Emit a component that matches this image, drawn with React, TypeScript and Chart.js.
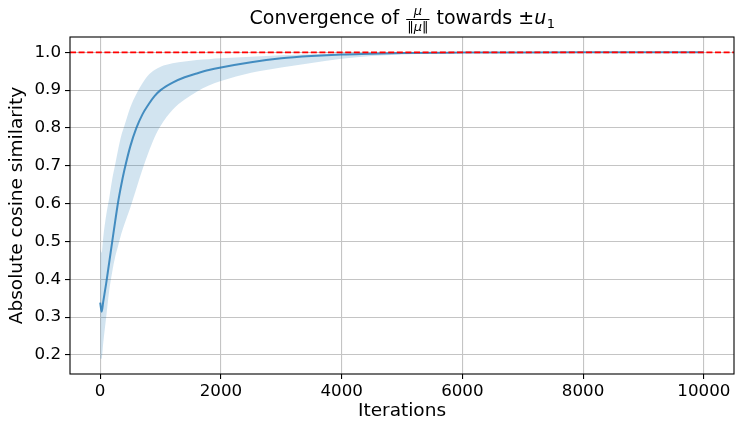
import React, { useEffect, useRef } from "react";
import { Chart, registerables } from "chart.js";

Chart.register(...registerables);

// ---------- data ----------
const iterations = [
  0, 25, 50, 100, 150, 200, 250, 300, 350, 400, 500, 600, 700, 800, 900, 1000,
  1200, 1400, 1600, 1800, 2000, 2500, 3000, 3500, 4000, 4500, 5000, 6000, 7000,
  8000, 9000, 10000,
];
const meanSim = [
  0.338, 0.314, 0.34, 0.39, 0.445, 0.5, 0.555, 0.607, 0.65, 0.688, 0.752, 0.8,
  0.836, 0.862, 0.884, 0.9, 0.92, 0.934, 0.944, 0.953, 0.96, 0.974, 0.984, 0.99,
  0.994, 0.996, 0.998, 0.9993, 0.9998, 1.0, 1.0, 1.0,
];
const upperSim = [
  0.48, 0.47, 0.51, 0.57, 0.615, 0.665, 0.705, 0.745, 0.78, 0.805, 0.855, 0.89,
  0.918, 0.94, 0.953, 0.962, 0.971, 0.976, 0.98, 0.982, 0.984, 0.988, 0.992,
  0.995, 0.997, 0.998, 0.999, 1.0, 1.0, 1.0, 1.0, 1.0,
];
const lowerSim = [
  0.19, 0.19, 0.23, 0.3, 0.37, 0.42, 0.46, 0.49, 0.52, 0.545, 0.59, 0.64,
  0.69, 0.735, 0.775, 0.805, 0.848, 0.875, 0.896, 0.912, 0.924, 0.946, 0.96,
  0.972, 0.983, 0.99, 0.994, 0.998, 0.9995, 1.0, 1.0, 1.0,
];
const xTicks = [0, 2000, 4000, 6000, 8000, 10000];
const yTicks = [0.2, 0.3, 0.4, 0.5, 0.6, 0.7, 0.8, 0.9, 1.0];
const X_MIN = -500;
const X_MAX = 10500;
const Y_MIN = 0.1495;
const Y_MAX = 1.0405;
const REF_LEVEL = 1.0;

const xLabel = "Iterations";
const yLabel = "Absolute cosine similarity";
const titlePre = "Convergence of ";
const titleNum = "μ";
const titleDenBar = "‖";
const titleDenSym = "μ";
const titlePost = " towards ±";
const titleSym = "u";
const titleSub = "1";

const FONT = '"DejaVu Sans"';

const toPoints = (ys: number[]) => iterations.map((x, i) => ({ x, y: ys[i] }));

const mathTitle = {
  id: "mathTitle",
  afterDraw(chart: any) {
    const ctx = chart.ctx as CanvasRenderingContext2D;
    const area = chart.chartArea;
    const big = 19;
    const small = 13;
    ctx.save();
    ctx.fillStyle = "#000";
    ctx.textBaseline = "alphabetic";
    ctx.textAlign = "left";

    ctx.font = `${big}px ${FONT}`;
    const wPre = ctx.measureText(titlePre).width;
    const wPost = ctx.measureText(titlePost).width;
    ctx.font = `italic ${big}px ${FONT}`;
    const wSym = ctx.measureText(titleSym).width;
    ctx.font = `${small}px ${FONT}`;
    const wSub = ctx.measureText(titleSub).width;
    const wBar = ctx.measureText(titleDenBar).width;
    ctx.font = `italic ${small}px ${FONT}`;
    const wNum = ctx.measureText(titleNum).width;
    const wMu = ctx.measureText(titleDenSym).width;
    const wDen = 2 * wBar + wMu;
    const fracW = Math.max(wNum, wDen) + 2;
    const gap = 1;
    const total = wPre + gap + fracW + gap + wPost + wSym + wSub;

    const base = 24;
    const barY = 19.5;
    let x = (area.left + area.right) / 2 - total / 2;

    ctx.font = `${big}px ${FONT}`;
    ctx.fillText(titlePre, x, base);
    x += wPre + gap;

    // fraction
    const cx = x + fracW / 2;
    ctx.font = `italic ${small}px ${FONT}`;
    ctx.fillText(titleNum, cx - wNum / 2, barY - 5);
    ctx.fillRect(x, barY - 0.5, fracW, 1);
    let dx = cx - wDen / 2;
    const denBase = barY + 11;
    ctx.font = `${small}px ${FONT}`;
    ctx.fillText(titleDenBar, dx, denBase);
    dx += wBar;
    ctx.font = `italic ${small}px ${FONT}`;
    ctx.fillText(titleDenSym, dx, denBase);
    dx += wMu;
    ctx.font = `${small}px ${FONT}`;
    ctx.fillText(titleDenBar, dx, denBase);
    x += fracW + gap;

    ctx.font = `${big}px ${FONT}`;
    ctx.fillText(titlePost, x, base);
    x += wPost;
    ctx.font = `italic ${big}px ${FONT}`;
    ctx.fillText(titleSym, x, base);
    x += wSym;
    ctx.font = `${small}px ${FONT}`;
    ctx.fillText(titleSub, x + 0.5, base + 4);

    // frame (spines)
    ctx.strokeStyle = "#000";
    ctx.lineWidth = 1.1;
    ctx.strokeRect(area.left, area.top, area.right - area.left, area.bottom - area.top);
    ctx.restore();
  },
};

export default function App() {
  const canvasRef = useRef<HTMLCanvasElement | null>(null);

  useEffect(() => {
    const canvas = canvasRef.current;
    if (!canvas) return;
    const chart = new Chart(canvas, {
      type: "line",
      data: {
        datasets: [
          {
            label: "lower",
            data: toPoints(lowerSim),
            borderColor: "rgba(0,0,0,0)",
            borderWidth: 0,
            pointRadius: 0,
            fill: false,
            cubicInterpolationMode: "monotone",
            order: 3,
          },
          {
            label: "upper",
            data: toPoints(upperSim),
            borderColor: "rgba(0,0,0,0)",
            borderWidth: 0,
            pointRadius: 0,
            fill: "-1",
            backgroundColor: "rgba(31,119,180,0.2)",
            cubicInterpolationMode: "monotone",
            order: 3,
          },
          {
            label: "mean",
            data: toPoints(meanSim),
            borderColor: "rgba(31,119,180,0.8)",
            borderWidth: 2,
            pointRadius: 0,
            fill: false,
            cubicInterpolationMode: "monotone",
            order: 2,
          },
          {
            label: "ref",
            data: [
              { x: X_MIN, y: REF_LEVEL },
              { x: X_MAX, y: REF_LEVEL },
            ],
            borderColor: "#ff0000",
            borderWidth: 1.8,
            borderDash: [6, 2.6],
            pointRadius: 0,
            fill: false,
            order: 1,
          },
        ],
      },
      options: {
        animation: false,
        responsive: false,
        devicePixelRatio: 1,
        layout: { padding: { left: 0, right: 1, top: 37, bottom: 0 } },
        plugins: {
          legend: { display: false },
          tooltip: { enabled: false },
          title: { display: false },
        },
        scales: {
          x: {
            type: "linear",
            min: X_MIN,
            max: X_MAX,
            afterBuildTicks: (s: any) => {
              s.ticks = xTicks.map((v) => ({ value: v }));
            },
            afterFit: (s: any) => {
              s.height = 48;
            },
            border: { display: false },
            grid: {
              color: "#c4c4c4",
              lineWidth: 1.1,
              tickColor: "#000",
              tickLength: 5,
              tickWidth: 1.1,
            },
            ticks: {
              color: "#000",
              font: { family: FONT, size: 16.7 },
              padding: 3,
              maxRotation: 0,
              autoSkip: false,
              callback: (v: any) => String(v),
            },
            title: {
              display: true,
              text: xLabel,
              color: "#000",
              font: { family: FONT, size: 18.5 },
              padding: { top: 1, bottom: 0 },
            },
          },
          y: {
            type: "linear",
            min: Y_MIN,
            max: Y_MAX,
            afterBuildTicks: (s: any) => {
              s.ticks = yTicks.map((v) => ({ value: v }));
            },
            afterFit: (s: any) => {
              s.width = 70;
            },
            border: { display: false },
            grid: {
              color: "#c4c4c4",
              lineWidth: 1.1,
              tickColor: "#000",
              tickLength: 5,
              tickWidth: 1.1,
            },
            ticks: {
              color: "#000",
              font: { family: FONT, size: 16.7 },
              padding: 4,
              autoSkip: false,
              callback: (v: any) => Number(v).toFixed(1),
            },
            title: {
              display: true,
              text: yLabel,
              color: "#000",
              font: { family: FONT, size: 18.5 },
              padding: { top: 6, bottom: 0 },
            },
          },
        },
      },
      plugins: [mathTitle],
    } as any);
    return () => chart.destroy();
  }, []);

  return (
    <div style={{ position: "absolute", left: 0, top: 0, width: 735, height: 422, background: "#fff" }}>
      <canvas ref={canvasRef} width={735} height={422} style={{ width: 735, height: 422 }} />
    </div>
  );
}
